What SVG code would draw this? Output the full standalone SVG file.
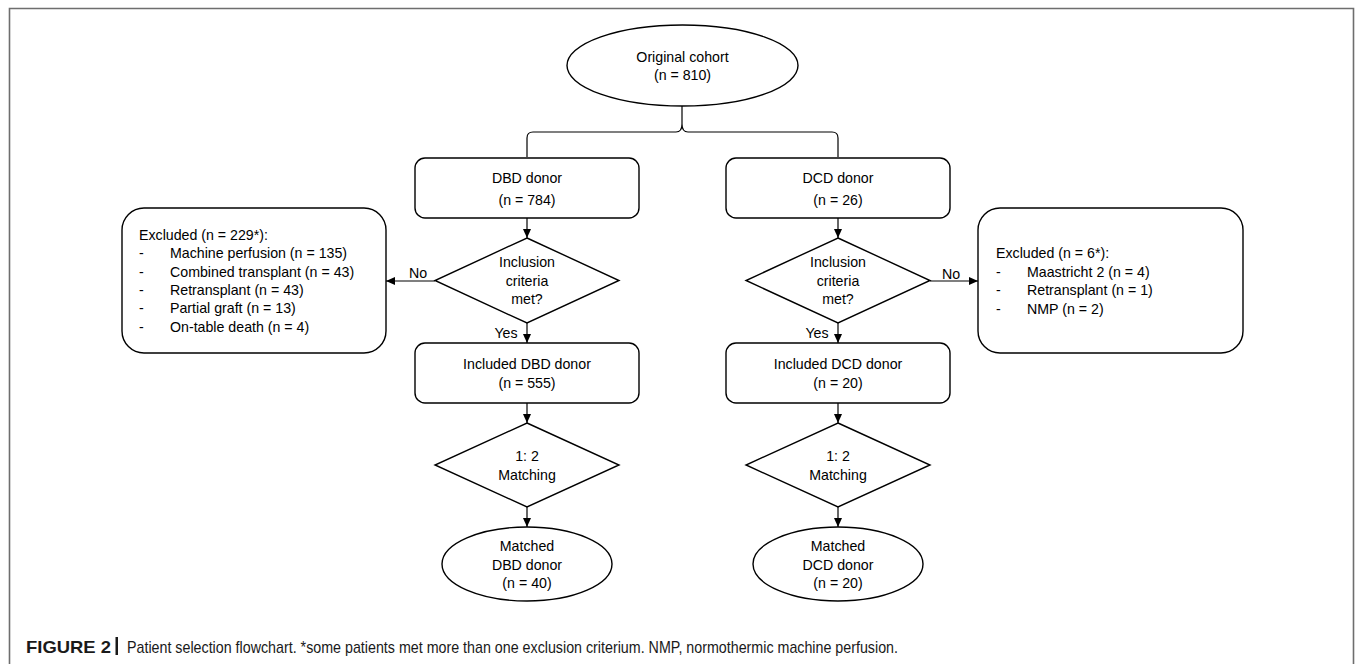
<svg xmlns="http://www.w3.org/2000/svg" width="1355" height="664" viewBox="0 0 1355 664">
<defs>
<marker id="arr" markerWidth="10" markerHeight="10" refX="9" refY="4" orient="auto" markerUnits="userSpaceOnUse">
<path d="M0,0 L9,4 L0,8 Z" fill="#000"/>
</marker>
<style>
.shape{fill:#fff;stroke:#000;stroke-width:1.4}
.conn{fill:none;stroke:#000;stroke-width:1.2}
.t{font-family:"Liberation Sans",Arial,sans-serif;font-size:14.2px;fill:#000}
.c{text-anchor:middle}
.cap{font-family:"Liberation Sans",Arial,sans-serif;font-size:17px;fill:#1a1a1a}
</style>
</defs>
<rect x="0" y="0" width="1355" height="664" fill="#fff"/>
<path d="M9.5,700 L9.5,8.5 L1353.5,8.5 L1353.5,700" fill="none" stroke="#6e6e6e" stroke-width="1.6"/>

<g id="connectors">
<path class="conn" d="M527,157 L527,138 Q527,132 533,132 L676,132 Q682,132 682,124 L682,106 M682,124 Q682,132 688,132 L832,132 Q838,132 838,138 L838,157"/>
<line class="conn" x1="527" y1="218" x2="527" y2="238" marker-end="url(#arr)"/>
<line class="conn" x1="838" y1="218" x2="838" y2="238" marker-end="url(#arr)"/>
<line class="conn" x1="435" y1="281" x2="386" y2="281" marker-end="url(#arr)"/>
<line class="conn" x1="930" y1="281" x2="978" y2="281" marker-end="url(#arr)"/>
<line class="conn" x1="527" y1="323" x2="527" y2="343" marker-end="url(#arr)"/>
<line class="conn" x1="838" y1="323" x2="838" y2="343" marker-end="url(#arr)"/>
<line class="conn" x1="527" y1="403" x2="527" y2="423" marker-end="url(#arr)"/>
<line class="conn" x1="838" y1="403" x2="838" y2="423" marker-end="url(#arr)"/>
<line class="conn" x1="527" y1="507" x2="527" y2="527" marker-end="url(#arr)"/>
<line class="conn" x1="838" y1="507" x2="838" y2="527" marker-end="url(#arr)"/>
<text class="t c" x="418" y="278">No</text>
<text class="t c" x="951" y="279">No</text>
<text class="t c" x="506" y="338">Yes</text>
<text class="t c" x="817" y="338">Yes</text>
</g>

<g id="original">
<ellipse class="shape" cx="682.5" cy="65.5" rx="115.5" ry="40.5"/>
<text class="t c" x="682.5" y="62">Original cohort</text>
<text class="t c" x="682.5" y="80">(n = 810)</text>
</g>

<g id="dbd">
<rect class="shape" x="415" y="158" width="224" height="60" rx="10"/>
<text class="t c" x="527" y="183">DBD donor</text>
<text class="t c" x="527" y="205">(n = 784)</text>
</g>
<g id="dcd">
<rect class="shape" x="726" y="158" width="224" height="60" rx="10"/>
<text class="t c" x="838" y="183">DCD donor</text>
<text class="t c" x="838" y="205">(n = 26)</text>
</g>

<g id="incl-dbd">
<polygon class="shape" points="527,238 619,280.5 527,323 435,280.5"/>
<text class="t c" x="527" y="267">Inclusion</text>
<text class="t c" x="527" y="286">criteria</text>
<text class="t c" x="527" y="304">met?</text>
</g>
<g id="incl-dcd">
<polygon class="shape" points="838,238 930,280.5 838,323 746,280.5"/>
<text class="t c" x="838" y="267">Inclusion</text>
<text class="t c" x="838" y="286">criteria</text>
<text class="t c" x="838" y="304">met?</text>
</g>

<g id="excl-dbd">
<rect class="shape" x="122" y="208" width="264" height="145" rx="22"/>
<text class="t" x="139" y="240">Excluded (n = 229*):</text>
<text class="t" x="139" y="258">-</text><text class="t" x="170" y="258">Machine perfusion (n = 135)</text>
<text class="t" x="139" y="277">-</text><text class="t" x="170" y="277">Combined transplant (n = 43)</text>
<text class="t" x="139" y="295">-</text><text class="t" x="170" y="295">Retransplant (n = 43)</text>
<text class="t" x="139" y="313">-</text><text class="t" x="170" y="313">Partial graft (n = 13)</text>
<text class="t" x="139" y="332">-</text><text class="t" x="170" y="332">On-table death (n = 4)</text>
</g>
<g id="excl-dcd">
<rect class="shape" x="978" y="208" width="265" height="145" rx="22"/>
<text class="t" x="996" y="258">Excluded (n = 6*):</text>
<text class="t" x="996" y="277">-</text><text class="t" x="1027" y="277">Maastricht 2 (n = 4)</text>
<text class="t" x="996" y="295">-</text><text class="t" x="1027" y="295">Retransplant (n = 1)</text>
<text class="t" x="996" y="314">-</text><text class="t" x="1027" y="314">NMP (n = 2)</text>
</g>

<g id="included-dbd">
<rect class="shape" x="415" y="343" width="224" height="60" rx="10"/>
<text class="t c" x="527" y="369">Included DBD donor</text>
<text class="t c" x="527" y="388">(n = 555)</text>
</g>
<g id="included-dcd">
<rect class="shape" x="726" y="343" width="224" height="60" rx="10"/>
<text class="t c" x="838" y="369">Included DCD donor</text>
<text class="t c" x="838" y="388">(n = 20)</text>
</g>

<g id="match-dbd">
<polygon class="shape" points="527,423 619,465 527,507 435,465"/>
<text class="t c" x="527" y="461">1: 2</text>
<text class="t c" x="527" y="480">Matching</text>
</g>
<g id="match-dcd">
<polygon class="shape" points="838,423 930,465 838,507 746,465"/>
<text class="t c" x="838" y="461">1: 2</text>
<text class="t c" x="838" y="480">Matching</text>
</g>

<g id="matched-dbd">
<ellipse class="shape" cx="527" cy="564" rx="85" ry="37"/>
<text class="t c" x="527" y="551">Matched</text>
<text class="t c" x="527" y="570">DBD donor</text>
<text class="t c" x="527" y="588">(n = 40)</text>
</g>
<g id="matched-dcd">
<ellipse class="shape" cx="838" cy="564" rx="85" ry="37"/>
<text class="t c" x="838" y="551">Matched</text>
<text class="t c" x="838" y="570">DCD donor</text>
<text class="t c" x="838" y="588">(n = 20)</text>
</g>

<g id="caption">
<text class="cap" x="26" y="653" font-weight="bold" textLength="85" lengthAdjust="spacingAndGlyphs">FIGURE 2</text>
<rect x="115.5" y="637" width="2.5" height="18" fill="#1a1a1a"/>
<text class="cap" x="127" y="653" textLength="771" lengthAdjust="spacingAndGlyphs">Patient selection flowchart. *some patients met more than one exclusion criterium. NMP, normothermic machine perfusion.</text>
</g>
</svg>
